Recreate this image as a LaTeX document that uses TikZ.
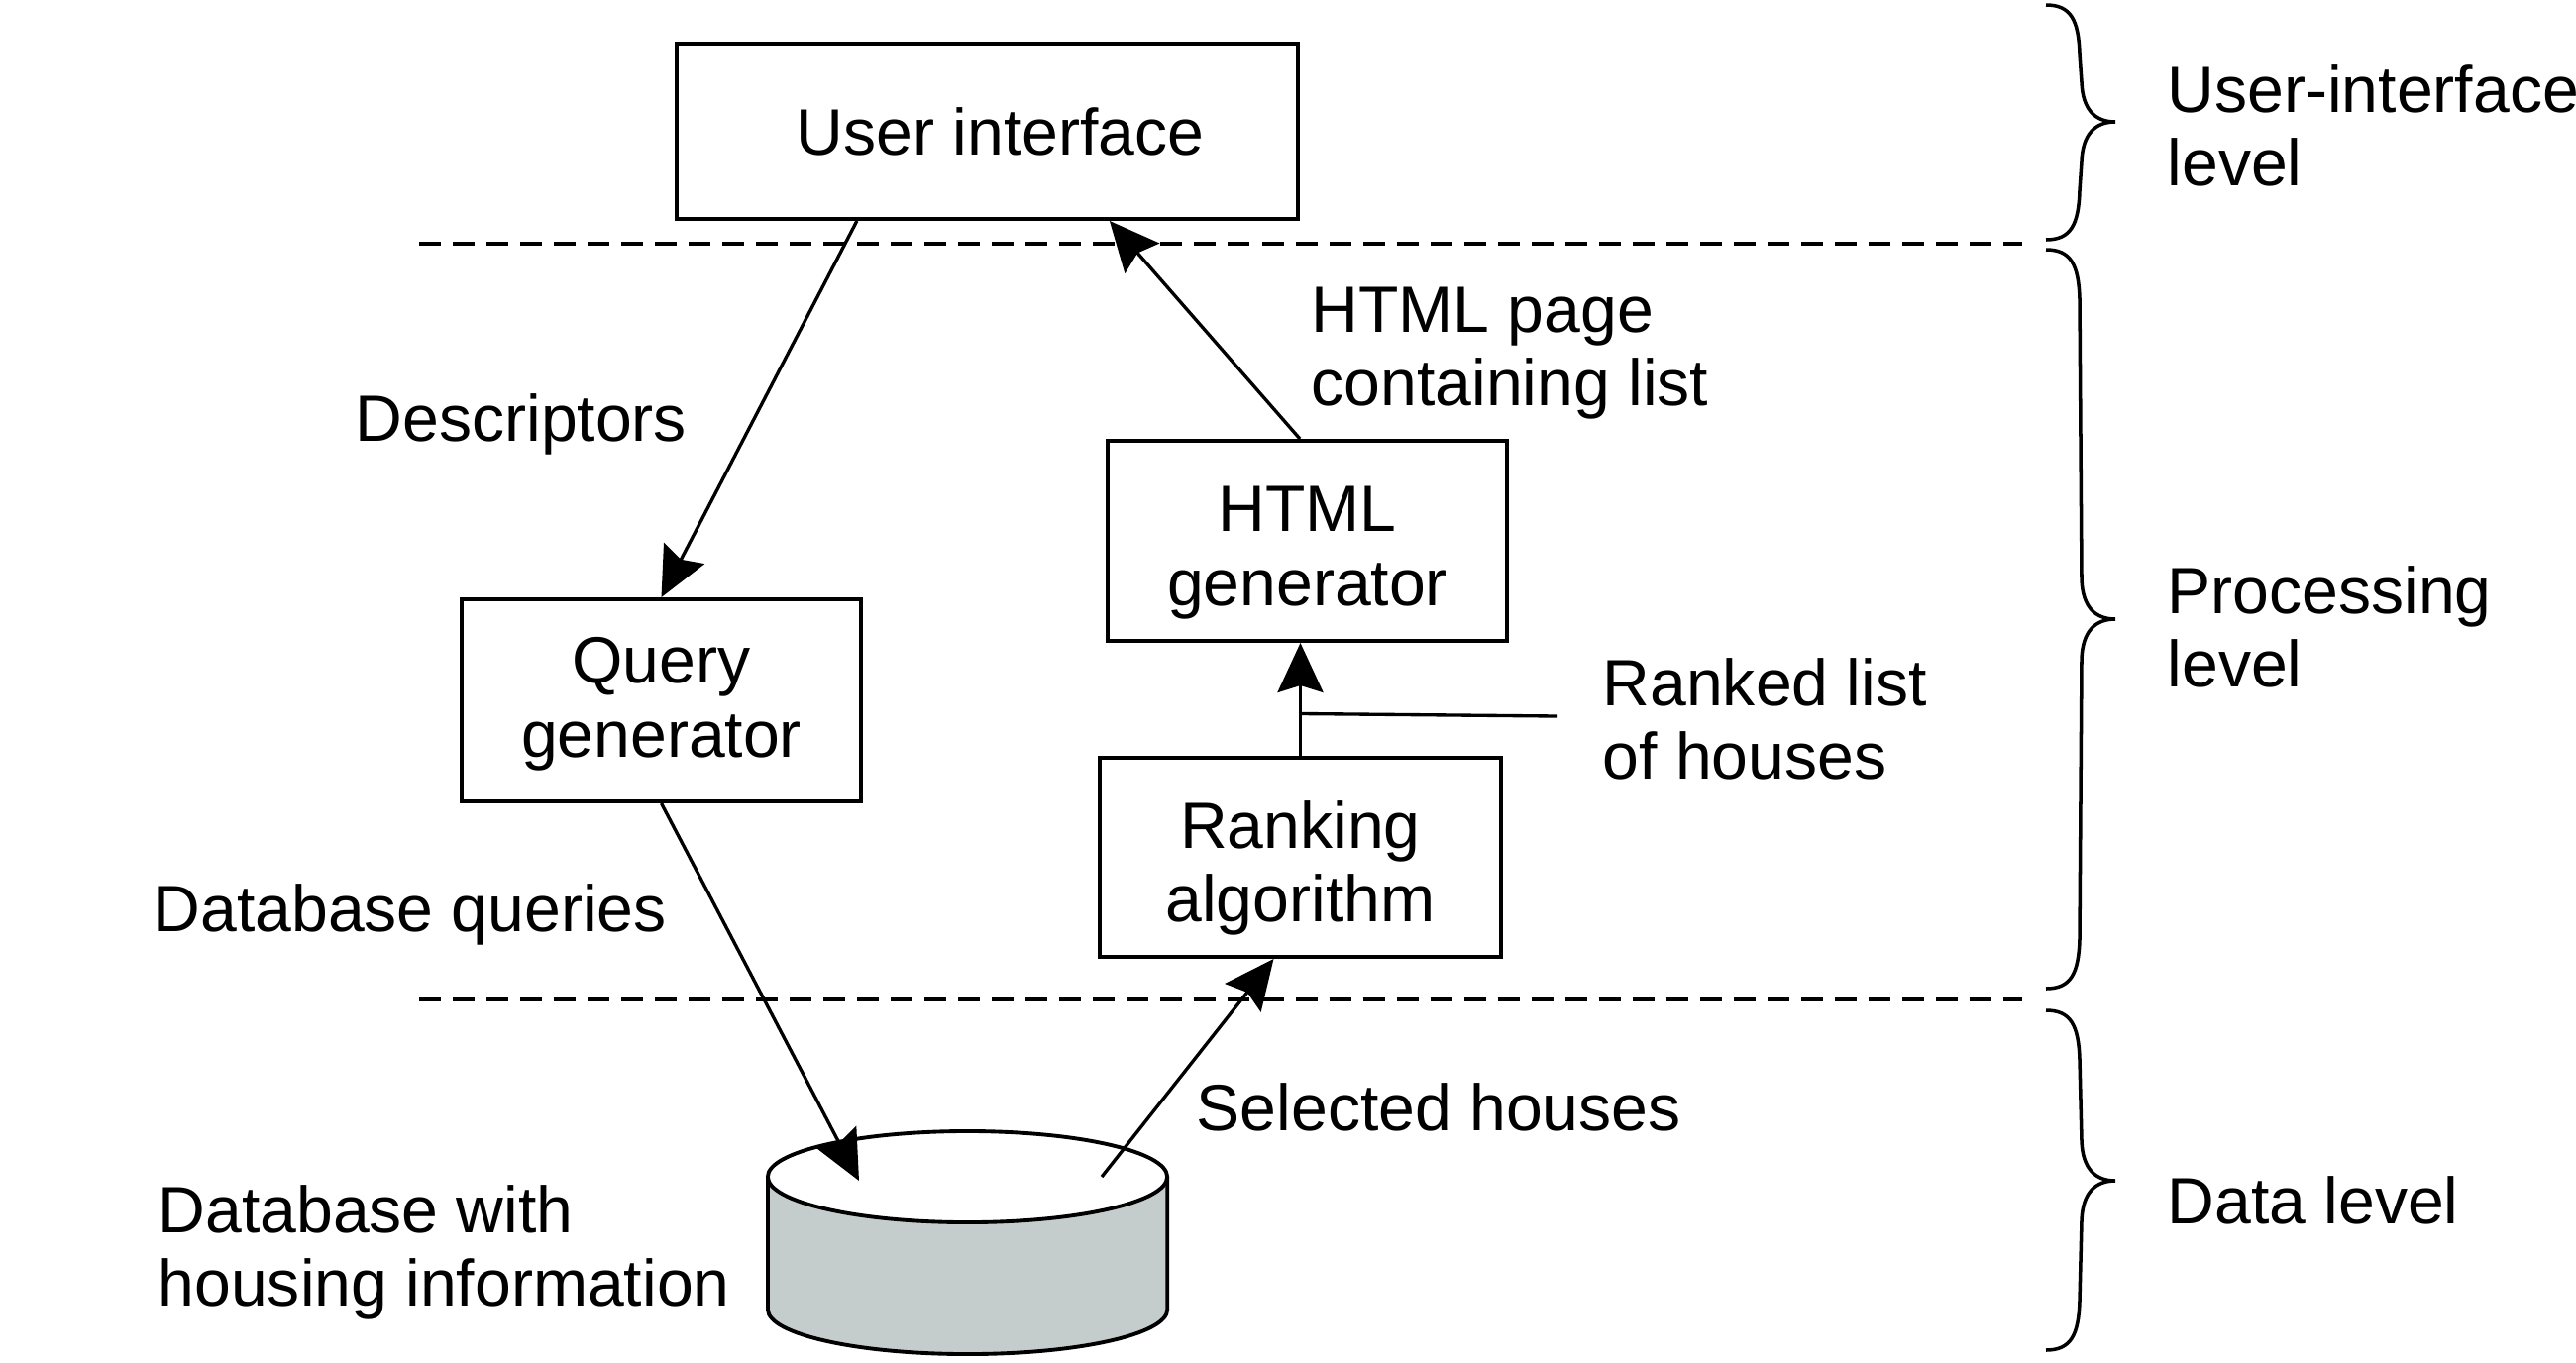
\documentclass[tikz,border=0pt]{standalone}
\usepackage{fontspec}
\setmainfont{Liberation Sans}
\usetikzlibrary{arrows.meta,calc}
\definecolor{dbgray}{RGB}{196,204,204}
\newcommand\lines[1]{\begin{tabular}[t]{@{}l@{}}#1\end{tabular}}
\newcommand\boxlines[2]{\raisebox{#1}[\height][\depth]{\begin{tabular}{@{}c@{}}#2\end{tabular}}}
\newcommand\bracepath[3]{(2065,#1) .. controls (2090,#1) and (2098,{#1+15}) .. (2099,{#1+50}) -- (2101,{#2-40}) .. controls (2102,{#2-12}) and (2115,#2) .. (2135,#2) .. controls (2115,#2) and (2102,{#2+12}) .. (2101,{#2+40}) -- (2099,{#3-50}) .. controls (2098,{#3-15}) and (2090,#3) .. (2065,#3)}
\begin{document}
\begin{tikzpicture}[x=0.01cm,y=-0.01cm,
  font=\fontsize{18.8}{21.3}\selectfont,
  box/.style={draw, line width=1.1pt, inner sep=0pt, align=center},
  conn/.style={line width=0.95pt, -{Stealth[length=5mm,width=4.6mm,inset=0.7mm]}},
  sepline/.style={line width=1.1pt, dash pattern=on 2.2mm off 1.2mm},
  lbl/.style={anchor=base west, inner sep=0pt},
  bracestyle/.style={line width=1pt}]
\useasboundingbox (0,0) rectangle (2600,1375);

% level separators
\draw[sepline] (423,246) -- (2041,246);
\draw[sepline] (423,1009) -- (2041,1009);

% braces
\draw[bracestyle] \bracepath{5}{123}{242};
\draw[bracestyle] \bracepath{252}{625}{998};
\draw[bracestyle] \bracepath{1020}{1192}{1363};

% level labels
\node[lbl] (uil) at (2187,113) {\lines{User-interface\\level}};
\node[lbl] (pl) at (2187,619) {\lines{Processing\\level}};
\node[lbl] (dl) at (2187,1235) {Data level};

% boxes
\node[box, minimum width=6.27cm, minimum height=1.77cm] (ui) at (996.5,132.5) {\hspace*{0.26cm}User interface};
\node[box, minimum width=4.03cm, minimum height=2.04cm] (qg) at (667.5,707) {\boxlines{-0.05cm}{Query\\generator}};
\node[box, minimum width=4.03cm, minimum height=2.02cm] (hg) at (1319.5,546) {\boxlines{-0.13cm}{HTML\\generator}};
\node[box, minimum width=4.05cm, minimum height=2.01cm] (ra) at (1312.5,865.5) {\boxlines{-0.13cm}{Ranking\\algorithm}};

% database
\coordinate (db) at (976.5,1188);
\fill[dbgray] ($(db)+(-201.5,0)$) -- ++(0,134) arc[start angle=180, end angle=360, x radius=2.015cm, y radius=0.45cm] -- ($(db)+(201.5,0)$) -- cycle;
\draw[line width=1.1pt] ($(db)+(-201.5,0)$) -- ++(0,134) arc[start angle=180, end angle=360, x radius=2.015cm, y radius=0.45cm] -- ++(0,-134);
\draw[line width=1.1pt, fill=white] (db) ellipse [x radius=2.015cm, y radius=0.46cm];
\coordinate (dbin) at (867,1192);
\coordinate (dbout) at (1112,1188);

% other labels
\node[lbl] (desc) at (358,445) {Descriptors};
\node[lbl] (htmlp) at (1323,335) {\lines{HTML page\\containing list}};
\node[lbl] (rank) at (1617,712) {\lines{Ranked list\\of houses}};
\node[lbl] (dbq) at (154,940) {Database queries};
\node[lbl] (sel) at (1207,1141) {Selected houses};
\node[lbl] (dbw) at (159,1244) {\lines{Database with\\housing information}};

% connectors
\draw[conn] ($(ui.south west)+(184,0)$) -- (qg.north);
\draw[conn] (qg.south) -- (dbin);
\draw[conn] (dbout) -- ($(ra.south)+(-27,0)$);
\draw[conn] (ra.north) -- (ra.north |- hg.south);
\draw[conn] ($(hg.north)+(-7.5,0)$) -- ($(ui.south west)+(439,0)$);
\coordinate (rlend) at (1572,723);
\draw[line width=0.95pt] ($(ra.north)!0.373!(ra.north |- hg.south)$) -- (rlend);
\end{tikzpicture}
\end{document}
